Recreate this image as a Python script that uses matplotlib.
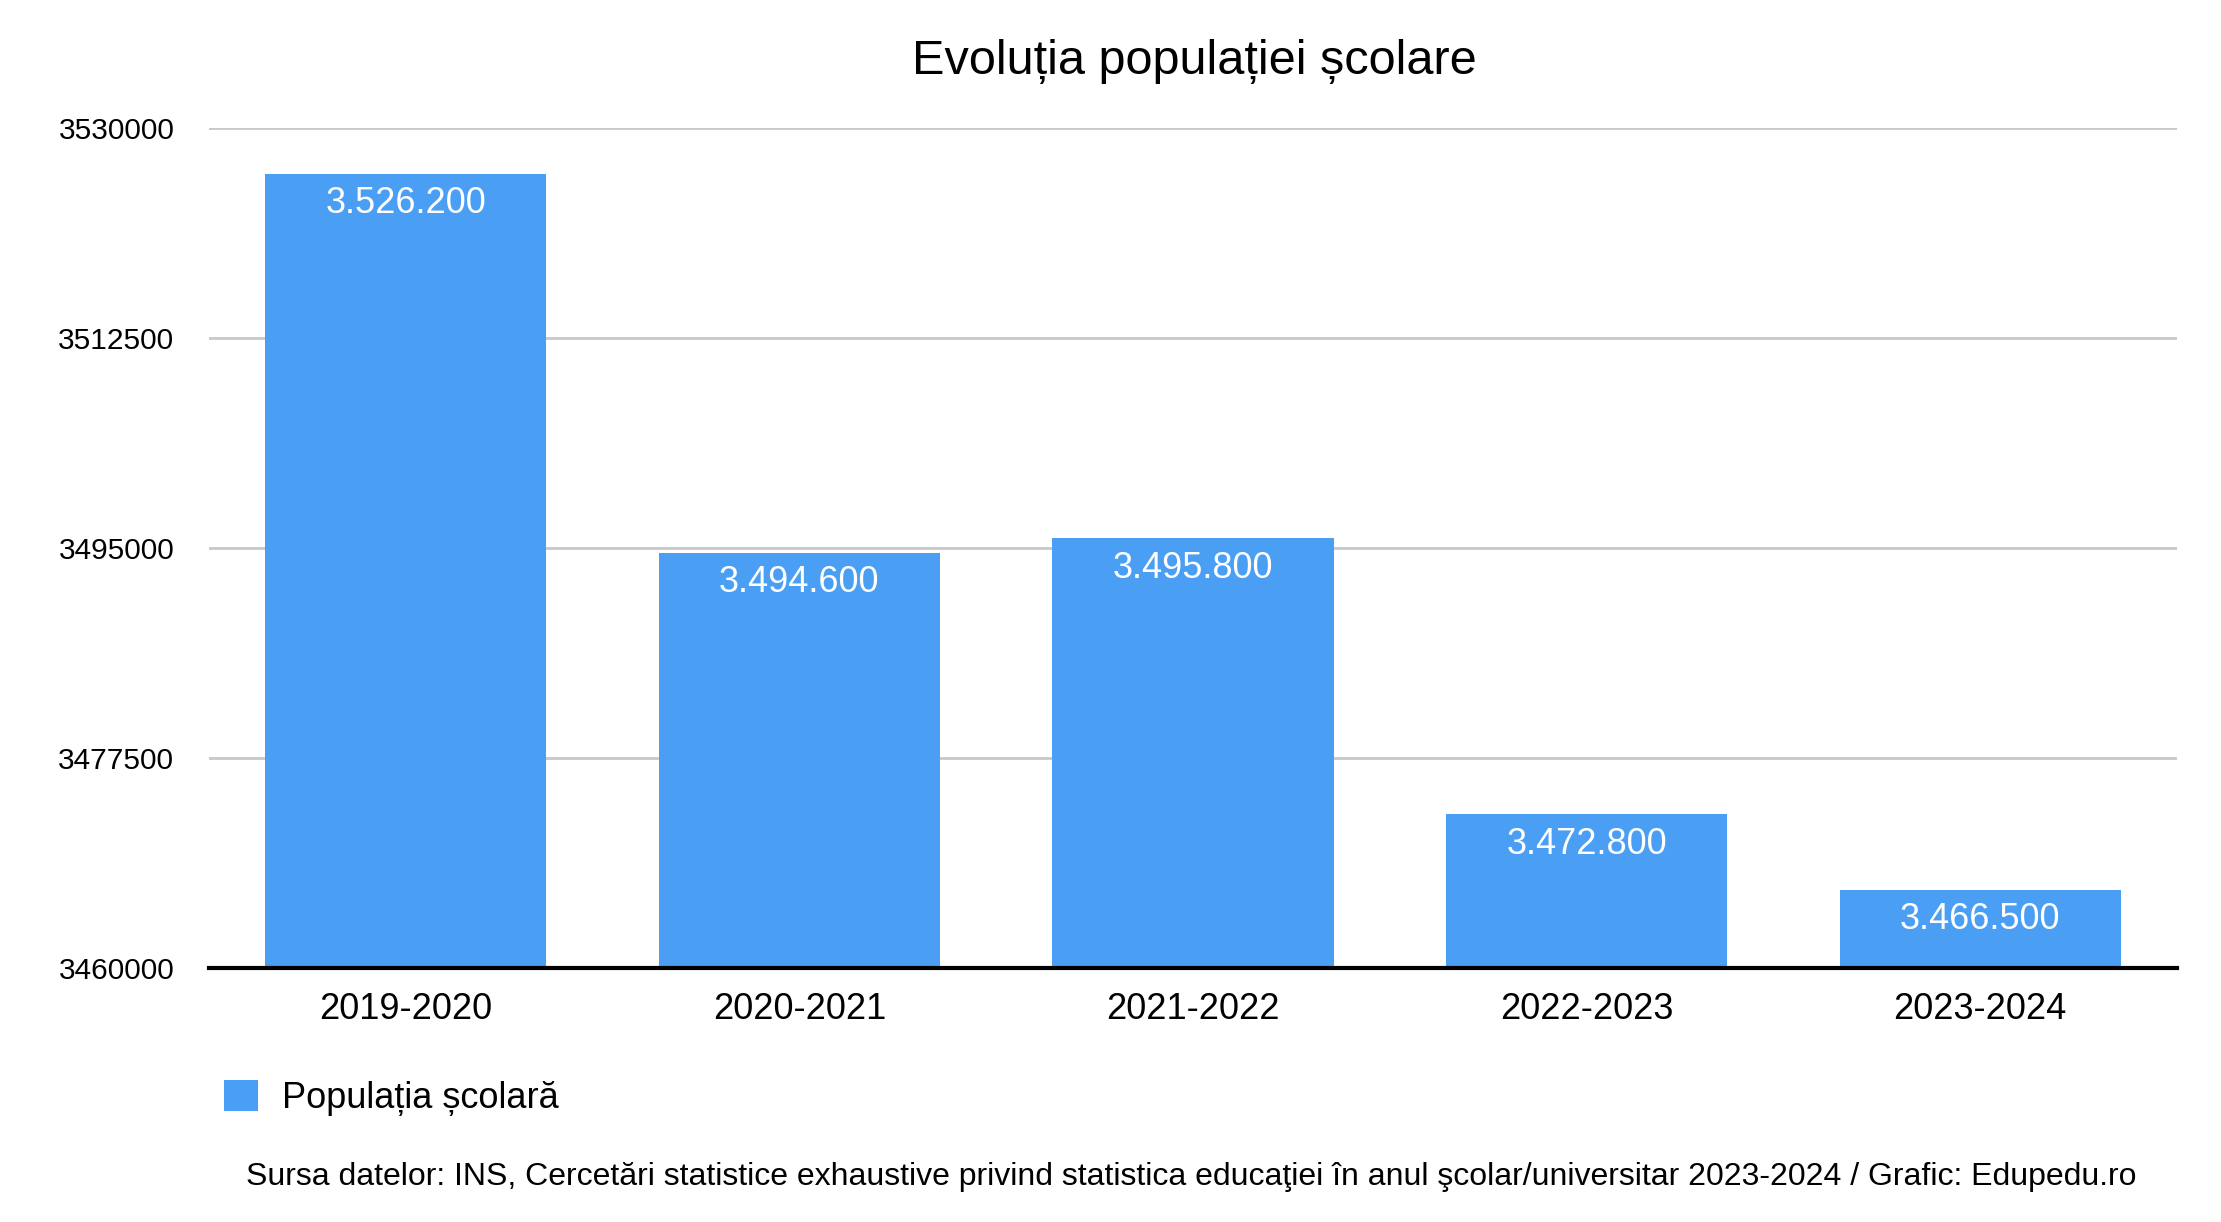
import matplotlib
matplotlib.use('Agg')
import matplotlib.pyplot as plt
from matplotlib.ticker import FixedLocator

plt.rcParams['font.family'] = ['Liberation Sans', 'DejaVu Sans']

years = ['2019-2020', '2020-2021', '2021-2022', '2022-2023', '2023-2024']
population = [3526200, 3494600, 3495800, 3472800, 3466500]
y_ticks = [3460000, 3477500, 3495000, 3512500, 3530000]

title = 'Evoluția populației școlare'
series_name = 'Populația școlară'
source = ('Sursa datelor: INS, Cercetări statistice exhaustive privind statistica '
          'educaţiei în anul şcolar/universitar 2023-2024 / Grafic: Edupedu.ro')

blue = '#4a9ff5'
W, H = 2221, 1222
fig = plt.figure(figsize=(W / 100, H / 100), dpi=100)
ax = fig.add_axes([209 / W, 1 - 968 / H, (2177 - 209) / W, (968 - 128) / H])

x = list(range(len(years)))
bars = ax.bar(x, population, width=0.714, color=blue, zorder=2, label=series_name)

ax.set_xlim(-0.5, len(years) - 0.5)
ax.set_ylim(y_ticks[0], y_ticks[-1])
ax.yaxis.set_major_locator(FixedLocator(y_ticks))
ax.set_yticklabels([str(v) for v in y_ticks])
ax.set_xticks(x)
ax.set_xticklabels(years)

ax.grid(axis='y', color='#c8c8c8', linewidth=2, zorder=0)
ax.set_axisbelow(True)
for s in ['top', 'right', 'left']:
    ax.spines[s].set_visible(False)
ax.spines['bottom'].set_linewidth(3)
ax.spines['bottom'].set_zorder(3)

ax.tick_params(axis='y', length=0, pad=25, labelsize=21.5)
ax.tick_params(axis='x', length=0, pad=17.5, labelsize=26)

# value labels inside the bars
for xi, v in zip(x, population):
    lbl = f'{v:,}'.replace(',', '.')
    ax.annotate(lbl, (xi, v), xytext=(0, -21.5), textcoords='offset points',
                ha='center', va='center', color='white', fontsize=26)

fig.text(1194 / W, 1 - 62 / H, title, ha='center', va='center', fontsize=35)

fig.legend(handles=[bars], labels=[series_name], loc='center left',
           bbox_to_anchor=(224 / W, 1 - 1098 / H), frameon=False,
           fontsize=26, handlelength=0.95, handleheight=0.95,
           handletextpad=0.67, borderpad=0, borderaxespad=0)

fig.text(2136 / W, 1 - 1185 / H, source, ha='right', va='baseline', fontsize=23)

fig.savefig('out.png', dpi=100, facecolor='white')
